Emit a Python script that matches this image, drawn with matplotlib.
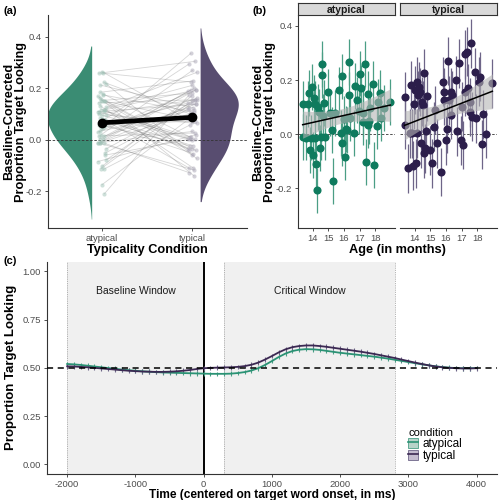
import numpy as np
import matplotlib
matplotlib.use("Agg")
from matplotlib import pyplot as plt
from matplotlib.lines import Line2D
from matplotlib.patches import Patch

plt.rcParams["font.family"] = ["Liberation Sans", "DejaVu Sans"]
plt.rcParams["axes.unicode_minus"] = False

CONDITIONS = ["atypical", "typical"]
POINT_COLORS = {"atypical": "#0f7b5e", "typical": "#2c1e4b"}
BAR_COLORS = {"atypical": "#4a9e85", "typical": "#6e6588"}
VIOLIN_COLORS = {"atypical": "#3a8c73", "typical": "#584d70"}
LINE_COLORS = {"atypical": "#2a9274", "typical": "#3b2852"}
KEY_FILLS = {"atypical": "#b7d3c9", "typical": "#c4bccf"}
AXIS_GREY = "#333333"
TICK_GREY = "#4d4d4d"

# Participant data (panels a and b):
age_months = [
    13.35, 13.37, 13.57, 13.66, 13.74, 13.83, 13.91, 13.95, 14.02, 14.06,
    14.11, 14.15, 14.23, 14.27, 14.34, 14.40, 14.47, 14.53, 14.60, 14.62,
    14.68, 14.74, 14.78, 15.00, 15.08, 15.23, 15.30, 15.45, 15.69, 15.79,
    15.86, 15.90, 15.98, 16.07, 16.13, 16.22, 16.30, 16.35, 16.41, 16.62,
    16.71, 16.83, 16.94, 17.05, 17.11, 17.20, 17.24, 17.37, 17.41, 17.52,
    17.57, 17.61, 17.65, 17.86, 17.95, 18.10, 18.19, 18.29, 18.38, 18.59,
    18.97,
]
atypical_score = [
    0.110, -0.010, -0.013, 0.110, 0.153, -0.059, -0.013, 0.175, -0.078, 0.132,
    0.113, -0.013, -0.111, -0.209, 0.100, 0.080, -0.051, -0.012, 0.259, 0.218,
    0.065, 0.115, -0.012, 0.155, 0.078, 0.015, -0.174, 0.078, 0.163, 0.003,
    -0.035, 0.213, 0.055, -0.084, 0.020, 0.015, 0.144, 0.265, 0.059, 0.003,
    0.179, 0.126, 0.086, 0.224, 0.169, 0.045, 0.079, 0.259, -0.103, 0.150,
    0.033, 0.047, 0.097, 0.185, -0.114, 0.030, 0.117, 0.153, 0.059, 0.096,
    0.117,
]
typical_score = [
    0.138, 0.033, -0.127, 0.002, 0.181, 0.002, -0.117, 0.110, 0.163, -0.109,
    0.002, 0.194, 0.144, 0.175, 0.156, -0.035, 0.120, 0.107, 0.225, -0.072,
    -0.053, 0.012, 0.140, -0.060, -0.109, 0.027, 0.089, -0.035, -0.140, 0.194,
    0.156, 0.125, -0.023, 0.020, 0.270, 0.125, 0.156, 0.071, 0.144, 0.200,
    0.010, 0.262, -0.023, 0.101, -0.041, 0.156, 0.295, 0.305, 0.170, 0.082,
    0.117, 0.336, 0.064, 0.229, 0.058, 0.194, 0.212, -0.038, 0.073, 0.000,
    0.188,
]
point_ci = {"atypical": 0.085, "typical": 0.09}

# Time course data (panel c):
time_ms = list(range(-2000, 4001, 100))
timecourse_atypical = [
    0.520, 0.518, 0.515, 0.511, 0.507, 0.503, 0.499, 0.495, 0.491, 0.488,
    0.485, 0.482, 0.480, 0.478, 0.476, 0.475, 0.474, 0.473, 0.472, 0.471,
    0.470, 0.469, 0.469, 0.469, 0.470, 0.473, 0.478, 0.486, 0.498, 0.515,
    0.535, 0.556, 0.574, 0.587, 0.594, 0.597, 0.596, 0.593, 0.588, 0.583,
    0.578, 0.574, 0.570, 0.566, 0.562, 0.558, 0.553, 0.548, 0.542, 0.536,
    0.530, 0.524, 0.518, 0.513, 0.508, 0.504, 0.501, 0.499, 0.498, 0.498,
    0.499,
]
timecourse_typical = [
    0.508, 0.507, 0.505, 0.503, 0.500, 0.497, 0.494, 0.491, 0.488, 0.485,
    0.483, 0.481, 0.480, 0.479, 0.479, 0.480, 0.482, 0.485, 0.489, 0.494,
    0.498, 0.500, 0.501, 0.502, 0.503, 0.505, 0.509, 0.516, 0.527, 0.543,
    0.561, 0.580, 0.596, 0.607, 0.613, 0.616, 0.616, 0.613, 0.609, 0.604,
    0.599, 0.594, 0.589, 0.584, 0.578, 0.572, 0.565, 0.558, 0.551, 0.543,
    0.535, 0.527, 0.520, 0.513, 0.507, 0.503, 0.500, 0.498, 0.497, 0.497,
    0.498,
]
timecourse_se = 0.012
windows = {"Baseline Window": (-2000, 0), "Critical Window": (300, 2800)}

scores = {"atypical": np.array(atypical_score), "typical": np.array(typical_score)}
ages = np.array(age_months)


def kde(values, grid, adjust=1.3):
    q75, q25 = np.percentile(values, [75, 25])
    bw = adjust * 0.9 * min(values.std(ddof=1), (q75 - q25) / 1.34) * len(values) ** -0.2
    z = (grid[:, None] - values[None, :]) / bw
    return np.exp(-0.5 * z ** 2).sum(axis=1) / (len(values) * bw * np.sqrt(2 * np.pi))


def fit_band(x, y, grid):
    slope, intercept = np.polyfit(x, y, 1)
    pred = intercept + slope * grid
    resid = y - (intercept + slope * x)
    n = len(x)
    s = np.sqrt(np.sum(resid ** 2) / (n - 2))
    se = s * np.sqrt(1 / n + (grid - x.mean()) ** 2 / np.sum((x - x.mean()) ** 2))
    return pred, 2.0 * se


def style_axis(ax, left=True):
    for side in ["top", "right"]:
        ax.spines[side].set_visible(False)
    ax.spines["left"].set_visible(left)
    for side in ["left", "bottom"]:
        ax.spines[side].set_color(AXIS_GREY)
        ax.spines[side].set_linewidth(0.8)
    ax.tick_params(colors=AXIS_GREY, labelcolor=TICK_GREY, labelsize=6.8,
                   length=2.5, width=0.6, pad=1.5)
    if not left:
        ax.tick_params(axis="y", left=False, labelleft=False)


fig = plt.figure(figsize=(4.99, 5.0), dpi=100)

# Panel (a): raincloud of paired scores:
ax_a = fig.add_axes([0.0956, 0.544, 0.3988, 0.426])
style_axis(ax_a)
grid = np.linspace(-0.45, 0.55, 400)
dens = {}
for cond in CONDITIONS:
    d = kde(scores[cond], grid)
    keep = (grid > scores[cond].min() - 0.1) & (grid < scores[cond].max() + 0.1)
    dens[cond] = (d, keep)
peak = max(d.max() for d, _ in dens.values())
for cond, edge, sign in [("atypical", 0.886, -1), ("typical", 2.085, 1)]:
    d, keep = dens[cond]
    width = d[keep] / peak * 0.49
    ax_a.fill_betweenx(grid[keep], edge, edge + sign * width,
                       color=VIOLIN_COLORS[cond], lw=0)

jitter = np.array([((i * 37) % 11 - 5) / 110 for i in range(len(ages))])
x1 = 1 + jitter
x2 = 2 + jitter[::-1]
for i in range(len(ages)):
    ax_a.plot([x1[i], x2[i]], [scores["atypical"][i], scores["typical"][i]],
              color="#777777", alpha=0.3, lw=0.6, zorder=2)
ax_a.scatter(x1, scores["atypical"], s=9, color="#9ec2b6", alpha=0.5, lw=0, zorder=3)
ax_a.scatter(x2, scores["typical"], s=9, color="#a9a5b5", alpha=0.5, lw=0, zorder=3)
means = [scores[c].mean() for c in CONDITIONS]
sems = [scores[c].std(ddof=1) / np.sqrt(len(ages)) for c in CONDITIONS]
ax_a.plot([1, 2], means, color="black", lw=3.4, zorder=5)
ax_a.errorbar([1, 2], means, yerr=sems, fmt="o", color="black", ms=6,
              elinewidth=2, capsize=0, zorder=6)
ax_a.axhline(0, color=AXIS_GREY, ls=(0, (3, 2)), lw=0.6, zorder=1)
ax_a.set_xlim(0.4, 2.6)
ax_a.set_ylim(-0.342, 0.485)
ax_a.set_xticks([1, 2], CONDITIONS)
ax_a.set_yticks([-0.2, 0.0, 0.2, 0.4], ["-0.2", "0.0", "0.2", "0.4"])
ax_a.set_xlabel("Typicality Condition", fontsize=9.2, fontweight="bold", labelpad=1)
ax_a.set_ylabel("Baseline-Corrected\nProportion Target Looking", fontsize=9.2,
                fontweight="bold", linespacing=1.0)
ax_a.yaxis.set_label_coords(-0.105, 0.5)

# Panel (b): score by age, one facet per condition:
facet_left = {"atypical": 0.5972, "typical": 0.8016}
age_grid = np.linspace(ages.min(), ages.max(), 100)
for cond in CONDITIONS:
    ax = fig.add_axes([facet_left[cond], 0.544, 0.1944, 0.424])
    style_axis(ax, left=(cond == "atypical"))
    ax.errorbar(ages, scores[cond], yerr=point_ci[cond], fmt="none",
                ecolor=BAR_COLORS[cond], elinewidth=0.9, zorder=2)
    ax.scatter(ages, scores[cond], s=34, color=POINT_COLORS[cond], lw=0, zorder=3)
    pred, band = fit_band(ages, scores[cond], age_grid)
    ax.fill_between(age_grid, pred - band, pred + band, color="#b5b5b5",
                    alpha=0.6, lw=0, zorder=4)
    ax.plot(age_grid, pred, color="black", lw=1.1, zorder=5)
    ax.axhline(0, color=AXIS_GREY, ls=(0, (3, 2)), lw=0.6, zorder=1)
    ax.set_xlim(13.05, 19.27)
    ax.set_ylim(-0.348, 0.437)
    ax.set_xticks([14, 15, 16, 17, 18])
    ax.set_yticks([-0.2, 0.0, 0.2, 0.4], ["-0.2", "0.0", "0.2", "0.4"])
    if cond == "atypical":
        ax.set_ylabel("Baseline-Corrected\nProportion Target Looking", fontsize=9.2,
                      fontweight="bold", linespacing=1.0)
        ax.yaxis.set_label_coords(-0.222, 0.5)
    strip = fig.add_axes([facet_left[cond], 0.970, 0.1944, 0.024])
    strip.set_facecolor("#d9d9d9")
    strip.set_xticks([])
    strip.set_yticks([])
    for side in strip.spines.values():
        side.set_color(AXIS_GREY)
        side.set_linewidth(0.8)
    strip.text(0.5, 0.45, cond, ha="center", va="center", fontsize=7.5,
               fontweight="bold", color="#1a1a1a", transform=strip.transAxes)
fig.text(0.797, 0.501, "Age (in months)", ha="center", va="center", fontsize=9.2,
         fontweight="bold")

# Panel (c): time course of target looking:
ax_c = fig.add_axes([0.0936, 0.052, 0.9024, 0.4246])
style_axis(ax_c)
for label, (start, end) in windows.items():
    ax_c.axvspan(start, end, color="#f0f0f0", lw=0, zorder=0)
    ax_c.text((start + end) / 2, 0.9, label, ha="center", va="center",
              fontsize=7.5, color="#1a1a1a")
for x in [-2000, 300, 2800]:
    ax_c.axvline(x, color="#9a9a9a", ls=(0, (1, 1.2)), lw=0.6, zorder=1)
ax_c.axvline(0, color="black", lw=1.4, zorder=1)
tc = {"atypical": timecourse_atypical, "typical": timecourse_typical}
for cond in CONDITIONS:
    ax_c.errorbar(time_ms, tc[cond], yerr=timecourse_se, fmt="none",
                  ecolor=BAR_COLORS[cond], elinewidth=0.8, zorder=2)
    ax_c.plot(time_ms, tc[cond], color=LINE_COLORS[cond], lw=1.3, zorder=3)
ax_c.axhline(0.5, color="black", ls=(0, (4, 3)), lw=1.1, zorder=4)
ax_c.set_xlim(-2300, 4300)
ax_c.set_ylim(-0.05, 1.05)
ax_c.set_xticks([-2000, -1000, 0, 1000, 2000, 3000, 4000])
ax_c.set_yticks([0, 0.25, 0.5, 0.75, 1.0], ["0.00", "0.25", "0.50", "0.75", "1.00"])
ax_c.set_xlabel("Time (centered on target word onset, in ms)", fontsize=8.6,
                fontweight="bold", labelpad=0)
ax_c.set_ylabel("Proportion Target Looking", fontsize=9.5, fontweight="bold",
                labelpad=4)
handles = [(Patch(facecolor=KEY_FILLS[c], edgecolor=BAR_COLORS[c], lw=0.6),
            Line2D([0], [0], color=LINE_COLORS[c], lw=1.2)) for c in CONDITIONS]
leg = ax_c.legend(handles, CONDITIONS, title="condition", loc="upper left",
                  bbox_to_anchor=(0.79, 0.245), frameon=False, fontsize=8.5,
                  title_fontsize=8, handlelength=0.8, handleheight=0.9,
                  handletextpad=0.4, labelspacing=0.0, borderpad=0)
leg._legend_box.align = "left"

# Panel letters:
for letter, x, y in [("(a)", 0.008, 0.978), ("(b)", 0.506, 0.978), ("(c)", 0.008, 0.478)]:
    fig.text(x, y, letter, fontsize=8, fontweight="bold", ha="left", va="center")

fig.savefig("out.png", dpi=100)
